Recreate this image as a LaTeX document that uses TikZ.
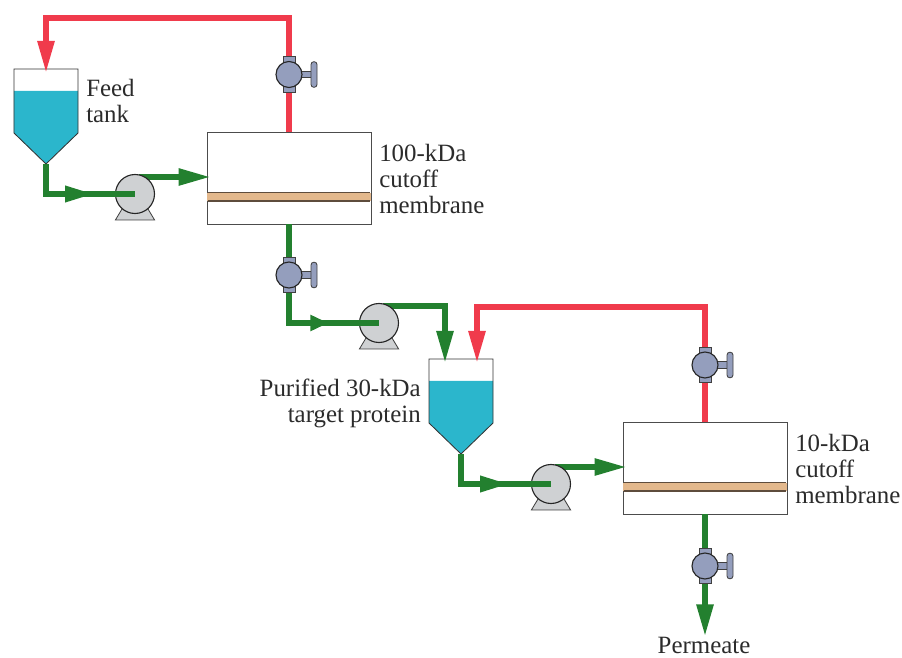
\documentclass[tikz,border=0pt]{standalone}
\usepackage{tikz}
\usepackage{fontspec}
\setmainfont{Liberation Serif}
\usetikzlibrary{arrows.meta,calc,decorations.markings}
\definecolor{pipered}{HTML}{F03B4C}
\definecolor{pipegreen}{HTML}{23802F}
\definecolor{liquid}{HTML}{2BB6CC}
\definecolor{valveblue}{HTML}{949EBD}
\definecolor{pumpgray}{HTML}{CFD1D3}
\definecolor{memtan}{HTML}{E3B88C}
\definecolor{memdark}{HTML}{5E4C3C}
\definecolor{inkgray}{HTML}{2B2B2B}
\tikzset{
  redpipe/.style={draw=pipered,line width=1.4mm},
  greenpipe/.style={draw=pipegreen,line width=1.4mm},
  bigtip/.style={-{Triangle[length=8mm,width=4mm]},shorten >=-1mm},
  midtip/.style 2 args={postaction={decorate},decoration={markings,
    mark=at position #1cm with {\arrow{Triangle[length=#2cm,width=3.8mm]}}}},
  unitbox/.style={draw=black!70,fill=white,semithick,minimum width=4.1cm,minimum height=2.3cm,inner sep=0},
  memband/.style={fill=memtan,minimum width=4.1cm,minimum height=2.2mm,inner sep=0},
  pumpdisc/.style={circle,draw=black!85,fill=pumpgray,thick,minimum size=9.75mm,inner sep=0},
  valvedisc/.style={circle,draw=black!85,fill=valveblue,thick,minimum size=6.5mm,inner sep=0},
  valvepart/.style={draw=black!75,fill=valveblue,semithick},
  lbl/.style={text=inkgray,font=\fontsize{17.7}{18.5}\selectfont,inner sep=0},
}
\newcommand{\tank}[2]{\begin{scope}[shift={(#2)}]
  \coordinate (#1top) at (0,0);
  \coordinate (#1tip) at (0,-2.375);
  \coordinate (#1left) at (-0.4,0);
  \coordinate (#1right) at (0.4,0);
  \fill[liquid] (-0.8,-0.55)--(0.8,-0.55)--(0.8,-1.6)--(0,-2.375)--(-0.8,-1.6)--cycle;
  \draw[black!80,semithick] (-0.8,0)--(0.8,0)--(0.8,-1.6)--(0,-2.375)--(-0.8,-1.6)--cycle;
\end{scope}}
\newcommand{\mbunit}[2]{
  \node[unitbox] (#1) at (#2) {};
  \node[memband] (#1mem) at ($(#1)+(0,-0.475)$) {};
  \draw[memdark,line width=0.4mm] ($(#1mem.south west)+(0.02,0.02)$)--($(#1mem.south east)+(-0.02,0.02)$);
  \draw[memdark,line width=0.2mm] ($(#1mem.north west)+(0.02,0)$)--($(#1mem.north east)+(-0.02,0)$);
}
\newcommand{\pump}[2]{
  \begin{scope}[shift={(#2)}]
    \draw[fill=pumpgray,draw=black!75,semithick] (-0.28,-0.3)--(0.28,-0.3)--(0.49,-0.65)--(-0.49,-0.65)--cycle;
  \end{scope}
  \node[pumpdisc] (#1) at (#2) {};
}
\newcommand{\valve}[2]{\begin{scope}[shift={(#2)}]
  \draw[valvepart] (-0.15,-0.44) rectangle (0.15,0.44);
  \draw[valvepart] (0.2,-0.08) rectangle (0.56,0.08);
  \draw[valvepart,rounded corners=0.07cm] (0.55,-0.32) rectangle (0.7,0.32);
  \node[valvedisc] (#1) at (0,0) {};
\end{scope}}

\begin{document}
\begin{tikzpicture}
\useasboundingbox (0,0) rectangle (22.55,16.425);
% tanks and membranes
\tank{tanka}{1.15,14.7}
\tank{tankb}{11.525,7.45}
\mbunit{unita}{7.225,11.975}
\mbunit{unitb}{17.625,4.725}
% labels
\node[lbl,align=left,anchor=west] (feedlbl) at (2.15,13.9) {Feed\\tank};
\node[lbl,align=left,anchor=west] (cuta) at (9.475,11.95) {100-kDa\\cutoff\\membrane};
\node[lbl,align=left,anchor=west] (cutb) at (19.875,4.7) {10-kDa\\cutoff\\membrane};
\node[lbl,align=right,anchor=east] (purelbl) at (10.525,6.35) {Purified 30-kDa\\target protein};
\node[lbl] (permlbl) at (17.6,0.3) {Permeate};
% pump outlets
\coordinate (pumpaout) at (3.475,12);
\coordinate (pumpbout) at (9.575,8.775);
\coordinate (pumpcout) at (13.875,4.75);
\draw[greenpipe,bigtip] (pumpaout)--(pumpaout-|unita.west);
\draw[greenpipe,bigtip] (pumpbout)-|(tankbleft);
\draw[greenpipe,bigtip] (pumpcout)--(pumpcout-|unitb.west);
% pumps
\pump{pumpa}{3.375,11.575}
\pump{pumpb}{9.475,8.35}
\pump{pumpc}{13.775,4.325}
% retentate lines
\coordinate (reda) at (7.225,15.975);
\coordinate (redb) at (17.625,8.75);
\draw[redpipe,bigtip] (unita.north)--(reda)-|(tankatop);
\draw[redpipe,bigtip] (unitb.north)--(redb)-|(tankbright);
% feed lines
\draw[greenpipe,midtip={1.95}{0.72}] (tankatip)|-(pumpa.center);
\draw[greenpipe,midtip={3.45}{0.45}] (unita.south)|-(pumpb.center);
\draw[greenpipe,midtip={1.95}{0.72}] (tankbtip)|-(pumpc.center);
\draw[greenpipe,bigtip,shorten >=0pt] (unitb.south)--(unitb.south|-permlbl.north);
% valves
\valve{valvea}{7.225,14.5625}
\valve{valveb}{7.225,9.55}
\valve{valvec}{17.625,7.3}
\valve{valved}{17.625,2.275}
\end{tikzpicture}
\end{document}
